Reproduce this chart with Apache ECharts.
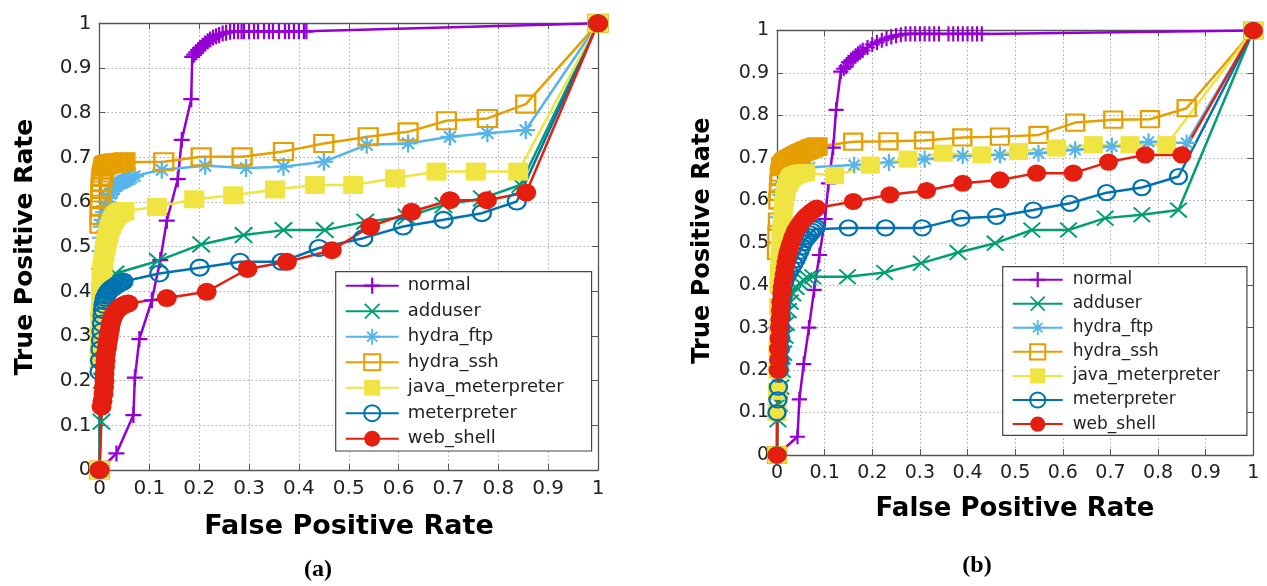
<!DOCTYPE html>
<html>
<head>
<meta charset="utf-8">
<script src="https://cdn.jsdelivr.net/npm/echarts@6/dist/echarts.min.js"></script>
<style>
  html, body { margin: 0; padding: 0; background: #fff; }
  #rocCharts { width: 1267px; height: 586px; }
</style>
</head>
<body>
<div id="rocCharts"></div>
<script>
// series names, same in both panels
let names = ["normal", "adduser", "hydra_ftp", "hydra_ssh", "java_meterpreter", "meterpreter", "web_shell"];

// panel (a) [FPR, TPR]
let normalA = [[0,0],[0.034,0.037],[0.068,0.123],[0.071,0.207],[0.080,0.293],[0.105,0.38],[0.122,0.47],[0.135,0.558],[0.157,0.651],[0.165,0.739],[0.184,0.83],[0.186,0.925],[0.19,0.93],[0.194,0.935],[0.198,0.94],[0.202,0.945],[0.207,0.95],[0.212,0.955],[0.217,0.96],[0.222,0.964],[0.228,0.968],[0.234,0.971],[0.24,0.974],[0.247,0.977],[0.254,0.979],[0.262,0.981],[0.27,0.982],[0.278,0.982],[0.285,0.982],[0.29,0.982],[0.3,0.982],[0.31,0.982],[0.318,0.982],[0.33,0.982],[0.34,0.982],[0.348,0.982],[0.36,0.982],[0.372,0.982],[0.38,0.982],[0.39,0.982],[0.4,0.982],[0.41,0.982],[0.415,0.982],[1,1]];
let adduserA = [[0,0],[0.004,0.108],[0.005,0.2],[0.008,0.3],[0.012,0.37],[0.018,0.41],[0.025,0.43],[0.032,0.44],[0.117,0.468],[0.204,0.505],[0.289,0.526],[0.369,0.537],[0.452,0.537],[0.533,0.556],[0.616,0.567],[0.69,0.593],[0.767,0.608],[0.844,0.638],[1,1]];
let hydraFtpA = [[0,0],[0,0.35],[0.002,0.45],[0.003,0.49],[0.004,0.52],[0.006,0.545],[0.007,0.56],[0.01,0.577],[0.012,0.59],[0.015,0.6],[0.018,0.61],[0.022,0.618],[0.025,0.625],[0.029,0.63],[0.033,0.635],[0.037,0.64],[0.042,0.643],[0.046,0.646],[0.05,0.648],[0.055,0.65],[0.059,0.652],[0.064,0.655],[0.07,0.658],[0.125,0.672],[0.212,0.681],[0.294,0.676],[0.369,0.679],[0.45,0.69],[0.536,0.728],[0.619,0.731],[0.703,0.746],[0.778,0.754],[0.855,0.761],[1,1]];
let hydraSshA = [[0,0],[0.001,0.55],[0.001,0.57],[0.002,0.59],[0.002,0.605],[0.003,0.62],[0.003,0.633],[0.004,0.645],[0.005,0.655],[0.006,0.665],[0.008,0.672],[0.009,0.678],[0.011,0.681],[0.013,0.683],[0.016,0.684],[0.019,0.685],[0.022,0.686],[0.026,0.686],[0.029,0.687],[0.033,0.687],[0.036,0.688],[0.04,0.688],[0.044,0.689],[0.047,0.689],[0.051,0.69],[0.129,0.69],[0.204,0.701],[0.286,0.701],[0.369,0.713],[0.45,0.731],[0.539,0.746],[0.619,0.757],[0.696,0.782],[0.778,0.787],[0.855,0.819],[1,1]];
let javaMetA = [[0,0],[0,0.25],[0.001,0.28],[0.001,0.3],[0.002,0.33],[0.002,0.35],[0.003,0.38],[0.003,0.4],[0.004,0.42],[0.005,0.44],[0.006,0.455],[0.008,0.47],[0.01,0.485],[0.012,0.5],[0.014,0.51],[0.016,0.52],[0.018,0.53],[0.02,0.54],[0.023,0.548],[0.025,0.555],[0.028,0.56],[0.03,0.565],[0.033,0.569],[0.036,0.572],[0.04,0.575],[0.043,0.577],[0.047,0.579],[0.05,0.58],[0.115,0.589],[0.19,0.606],[0.268,0.615],[0.352,0.628],[0.432,0.638],[0.509,0.638],[0.593,0.653],[0.676,0.668],[0.755,0.668],[0.84,0.668],[1,1]];
let meterA = [[0,0],[0,0.22],[0.001,0.245],[0.002,0.27],[0.003,0.29],[0.004,0.31],[0.005,0.328],[0.006,0.345],[0.007,0.358],[0.008,0.37],[0.01,0.378],[0.011,0.385],[0.013,0.39],[0.015,0.395],[0.018,0.399],[0.02,0.402],[0.023,0.405],[0.026,0.408],[0.03,0.41],[0.033,0.413],[0.037,0.416],[0.04,0.418],[0.044,0.42],[0.048,0.422],[0.12,0.44],[0.201,0.453],[0.282,0.466],[0.365,0.466],[0.44,0.497],[0.529,0.519],[0.609,0.545],[0.69,0.56],[0.767,0.575],[0.837,0.601],[1,1]];
let webShellA = [[0,0],[0.004,0.142],[0.006,0.155],[0.008,0.17],[0.009,0.185],[0.01,0.2],[0.01,0.215],[0.011,0.23],[0.012,0.245],[0.013,0.26],[0.015,0.273],[0.016,0.285],[0.018,0.295],[0.019,0.305],[0.021,0.315],[0.022,0.325],[0.024,0.333],[0.026,0.34],[0.028,0.346],[0.031,0.352],[0.034,0.356],[0.037,0.36],[0.04,0.363],[0.043,0.366],[0.047,0.368],[0.05,0.37],[0.054,0.372],[0.058,0.373],[0.135,0.385],[0.215,0.399],[0.297,0.45],[0.376,0.466],[0.466,0.492],[0.543,0.545],[0.626,0.578],[0.703,0.604],[0.777,0.604],[0.856,0.621],[1,1]];

// panel (b)
let normalB = [[0,0],[0.043,0.043],[0.047,0.131],[0.056,0.214],[0.067,0.3],[0.078,0.389],[0.089,0.471],[0.101,0.556],[0.108,0.64],[0.118,0.724],[0.124,0.813],[0.134,0.903],[0.14,0.91],[0.145,0.915],[0.15,0.925],[0.155,0.93],[0.16,0.935],[0.165,0.94],[0.17,0.945],[0.175,0.949],[0.18,0.953],[0.19,0.96],[0.2,0.967],[0.21,0.972],[0.22,0.977],[0.23,0.981],[0.24,0.985],[0.25,0.988],[0.26,0.99],[0.27,0.992],[0.28,0.992],[0.29,0.992],[0.3,0.992],[0.31,0.992],[0.32,0.992],[0.33,0.992],[0.34,0.992],[0.36,0.992],[0.37,0.992],[0.38,0.992],[0.39,0.992],[0.4,0.992],[0.41,0.992],[0.42,0.992],[0.43,0.992],[1,1]];
let adduserB = [[0,0],[0.002,0.083],[0.005,0.12],[0.008,0.16],[0.011,0.2],[0.014,0.24],[0.017,0.28],[0.02,0.31],[0.024,0.34],[0.028,0.36],[0.033,0.38],[0.04,0.395],[0.048,0.405],[0.056,0.412],[0.065,0.417],[0.075,0.42],[0.148,0.42],[0.226,0.43],[0.303,0.452],[0.38,0.477],[0.458,0.499],[0.535,0.53],[0.612,0.53],[0.689,0.558],[0.766,0.566],[0.843,0.577],[1,1]];
let hydraFtpB = [[0,0],[0,0.3],[0.002,0.5],[0.003,0.53],[0.004,0.56],[0.006,0.58],[0.007,0.6],[0.009,0.613],[0.011,0.625],[0.014,0.635],[0.016,0.643],[0.019,0.65],[0.022,0.655],[0.026,0.659],[0.03,0.663],[0.035,0.666],[0.04,0.668],[0.045,0.67],[0.05,0.672],[0.055,0.674],[0.06,0.675],[0.068,0.678],[0.162,0.683],[0.235,0.689],[0.31,0.697],[0.39,0.705],[0.468,0.707],[0.549,0.711],[0.626,0.719],[0.703,0.727],[0.78,0.738],[0.86,0.735],[1,1]];
let hydraSshB = [[0,0],[0,0.48],[0.001,0.52],[0.002,0.55],[0.003,0.6],[0.004,0.62],[0.005,0.64],[0.006,0.655],[0.007,0.665],[0.009,0.68],[0.012,0.684],[0.015,0.688],[0.018,0.691],[0.022,0.694],[0.026,0.697],[0.03,0.699],[0.034,0.702],[0.038,0.704],[0.042,0.707],[0.046,0.709],[0.05,0.711],[0.054,0.713],[0.058,0.715],[0.062,0.717],[0.066,0.719],[0.07,0.721],[0.074,0.723],[0.078,0.724],[0.082,0.726],[0.085,0.727],[0.16,0.738],[0.234,0.739],[0.309,0.741],[0.389,0.748],[0.468,0.75],[0.549,0.754],[0.626,0.783],[0.706,0.79],[0.783,0.791],[0.86,0.817],[1,1]];
let javaMetB = [[0,0],[0,0.1],[0.001,0.15],[0.002,0.2],[0.002,0.25],[0.003,0.3],[0.003,0.35],[0.004,0.4],[0.005,0.43],[0.006,0.46],[0.007,0.485],[0.008,0.51],[0.01,0.53],[0.011,0.55],[0.013,0.57],[0.014,0.59],[0.016,0.605],[0.018,0.62],[0.02,0.63],[0.023,0.64],[0.026,0.646],[0.029,0.652],[0.032,0.655],[0.036,0.658],[0.04,0.66],[0.044,0.662],[0.048,0.663],[0.052,0.664],[0.06,0.665],[0.121,0.658],[0.196,0.683],[0.275,0.697],[0.349,0.711],[0.43,0.707],[0.507,0.715],[0.587,0.723],[0.664,0.731],[0.741,0.731],[0.818,0.731],[1,1]];
let meterB = [[0,0],[0,0.1],[0.002,0.13],[0.003,0.16],[0.005,0.2],[0.006,0.225],[0.007,0.25],[0.008,0.275],[0.008,0.3],[0.009,0.325],[0.01,0.35],[0.011,0.37],[0.012,0.39],[0.016,0.405],[0.02,0.42],[0.025,0.43],[0.03,0.44],[0.035,0.45],[0.04,0.46],[0.044,0.47],[0.048,0.48],[0.052,0.49],[0.055,0.5],[0.06,0.508],[0.065,0.515],[0.07,0.521],[0.074,0.527],[0.078,0.532],[0.082,0.536],[0.15,0.535],[0.228,0.535],[0.305,0.535],[0.386,0.558],[0.461,0.562],[0.538,0.577],[0.615,0.593],[0.692,0.618],[0.766,0.63],[0.843,0.656],[1,1]];
let webShellB = [[0,0],[0.002,0.2],[0.003,0.225],[0.003,0.25],[0.004,0.275],[0.005,0.3],[0.006,0.32],[0.007,0.34],[0.008,0.36],[0.01,0.38],[0.011,0.395],[0.013,0.41],[0.015,0.425],[0.017,0.44],[0.019,0.453],[0.021,0.465],[0.023,0.476],[0.026,0.487],[0.028,0.496],[0.031,0.505],[0.034,0.514],[0.037,0.522],[0.04,0.53],[0.044,0.537],[0.048,0.544],[0.052,0.55],[0.056,0.556],[0.06,0.561],[0.064,0.565],[0.068,0.569],[0.072,0.573],[0.076,0.576],[0.08,0.579],[0.083,0.582],[0.16,0.597],[0.237,0.613],[0.314,0.623],[0.39,0.64],[0.468,0.648],[0.545,0.664],[0.622,0.664],[0.696,0.69],[0.773,0.707],[0.85,0.707],[1,1]];

let dataA = [normalA, adduserA, hydraFtpA, hydraSshA, javaMetA, meterA, webShellA];
let dataB = [normalB, adduserB, hydraFtpB, hydraSshB, javaMetB, meterB, webShellB];

// marker shapes (gnuplot-ish)
let plusPath = "path://M0,4.3H10V5.7H0Z M4.3,0H5.7V10H4.3Z";
let crossPath = "path://M0,0.8L0.8,0L10,9.2L9.2,10Z M10,0.8L0.8,10L0,9.2L9.2,0Z";
let starPath = "path://M0,4.4H10V5.6H0Z M4.4,0H5.6V10H4.4Z M1.46,2.3L2.3,1.46L8.54,7.7L7.7,8.54Z M8.54,2.3L2.3,8.54L1.46,7.7L7.7,1.46Z";

let looks = [
  { color: "#9400D3", symbol: plusPath, size: [16, 16], hollow: false },
  { color: "#009E73", symbol: crossPath, size: [19, 17], hollow: false },
  { color: "#56B4E9", symbol: starPath, size: [19, 18], hollow: false },
  { color: "#E69F00", symbol: "rect", size: [19, 17], hollow: true },
  { color: "#F0E442", symbol: "rect", size: [20, 18], hollow: false },
  { color: "#0072B2", symbol: "circle", size: [18, 16], hollow: true },
  { color: "#E51E10", symbol: "circle", size: [20, 18], hollow: false }
];

function makeSeries(name, idx, data, axisIdx, scale) {
  let lk = looks[idx];
  return {
    name: name,
    type: "line",
    data: data,
    xAxisIndex: axisIdx,
    yAxisIndex: axisIdx,
    symbol: lk.symbol,
    symbolSize: [lk.size[0] * scale, lk.size[1] * scale],
    clip: false,
    lineStyle: { color: lk.color, width: 2.5 },
    itemStyle: lk.hollow
      ? { color: "rgba(255,255,255,0)", borderColor: lk.color, borderWidth: 2.2 }
      : { color: lk.color, borderWidth: 0 },
    emphasis: { disabled: true }
  };
}

let seriesData = [];
names.forEach(function(n, i) { seriesData.push(makeSeries(n, i, dataA[i], 0, 1)); });
names.forEach(function(n, i) { seriesData.push(makeSeries(n, i, dataB[i], 2, 0.95)); });

let axisColor = "#555";
let gridLine = { show: true, lineStyle: { type: [1.5, 2.5], color: "#aaa", width: 1 } };

function xAx(gridIndex, pos, fs) {
  return {
    type: "value", gridIndex: gridIndex, position: pos, min: 0, max: 1, interval: 0.1,
    axisLine: { show: true, onZero: false, lineStyle: { color: axisColor, width: 1.3 } },
    axisTick: { show: true, inside: true, length: 6, lineStyle: { color: axisColor } },
    axisLabel: { show: pos === "bottom", fontSize: fs, fontFamily: "DejaVu Sans", color: "#222", margin: 9 },
    splitLine: pos === "bottom" ? gridLine : { show: false }
  };
}
function yAx(gridIndex, pos, fs) {
  return {
    type: "value", gridIndex: gridIndex, position: pos, min: 0, max: 1, interval: 0.1,
    axisLine: { show: true, onZero: false, lineStyle: { color: axisColor, width: 1.3 } },
    axisTick: { show: true, inside: true, length: 6, lineStyle: { color: axisColor } },
    axisLabel: { show: pos === "left", fontSize: fs, fontFamily: "DejaVu Sans", color: "#222", margin: 8 },
    splitLine: pos === "left" ? gridLine : { show: false }
  };
}

let chartsOptions = {
  animation: false,
  backgroundColor: "#fff",
  grid: [
    { left: 99.5, top: 23.3, width: 498.5, height: 446.7 },
    { left: 777, top: 30.5, width: 476.3, height: 424.5 }
  ],
  xAxis: [xAx(0, "bottom", 20), xAx(0, "top", 20), xAx(1, "bottom", 19), xAx(1, "top", 19)],
  yAxis: [yAx(0, "left", 20), yAx(0, "right", 20), yAx(1, "left", 19), yAx(1, "right", 19)],
  legend: [
    {
      data: names, orient: "vertical", left: 335.7, top: 271.7,
      itemWidth: 53, itemHeight: 20, itemGap: 7.5,
      padding: [5, 28, 3.3, 9],
      backgroundColor: "#fff", borderColor: "#444", borderWidth: 1.2,
      selectedMode: false,
      textStyle: { fontSize: 18, fontFamily: "DejaVu Sans", color: "#222", padding: [0, 0, 0, 4] }
    },
    {
      data: names, orient: "vertical", left: 1002.7, top: 266.7,
      itemWidth: 50, itemHeight: 19, itemGap: 7,
      padding: [4.5, 27, 2.8, 9],
      backgroundColor: "#fff", borderColor: "#444", borderWidth: 1.2,
      selectedMode: false,
      textStyle: { fontSize: 17, fontFamily: "DejaVu Sans", color: "#222", padding: [0, 0, 0, 5] }
    }
  ],
  graphic: [
    { type: "text", x: 25, y: 247, rotation: Math.PI / 2,
      style: { text: "True Positive Rate", font: "bold 25px 'DejaVu Sans'", fill: "#000", align: "center", verticalAlign: "middle" } },
    { type: "text", x: 703, y: 240.5, rotation: Math.PI / 2,
      style: { text: "True Positive Rate", font: "bold 24px 'DejaVu Sans'", fill: "#000", align: "center", verticalAlign: "middle" } },
    { type: "text", x: 349, y: 527,
      style: { text: "False Positive Rate", font: "bold 27px 'DejaVu Sans'", fill: "#000", align: "center", verticalAlign: "middle" } },
    { type: "text", x: 1015, y: 509,
      style: { text: "False Positive Rate", font: "bold 26px 'DejaVu Sans'", fill: "#000", align: "center", verticalAlign: "middle" } },
    { type: "text", x: 318, y: 570,
      style: { text: "(a)", font: "bold 24px 'Liberation Serif'", fill: "#000", align: "center", verticalAlign: "middle" } },
    { type: "text", x: 977, y: 566,
      style: { text: "(b)", font: "bold 24px 'Liberation Serif'", fill: "#000", align: "center", verticalAlign: "middle" } }
  ],
  series: seriesData
};

let dataCharts = echarts.init(document.getElementById("rocCharts"));
dataCharts.setOption(chartsOptions);
</script>
</body>
</html>
